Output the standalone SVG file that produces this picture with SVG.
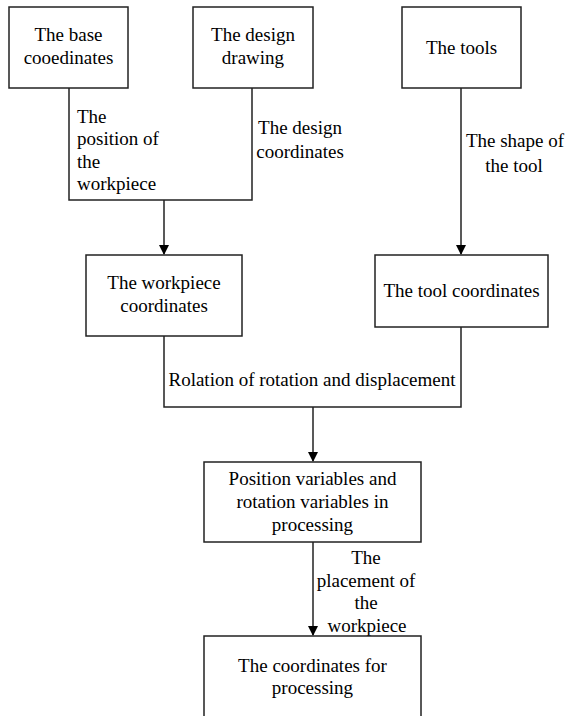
<svg xmlns="http://www.w3.org/2000/svg" width="567" height="716" viewBox="0 0 567 716">
<defs>
<marker id="arr" markerWidth="10" markerHeight="10" refX="9" refY="5" orient="auto" markerUnits="userSpaceOnUse">
<path d="M0,0 L10,5 L0,10 Z" fill="#000"/>
</marker>
<style>
.box{fill:#fff;stroke:#222;stroke-width:1.5}
.ln{fill:none;stroke:#222;stroke-width:1.5}
.t{font-family:'Liberation Serif','Times New Roman',serif;font-size:19px;fill:#000}
.c{text-anchor:middle}
</style>
</defs>
<rect width="567" height="716" fill="#fff"/>
<g id="connectors">
<polyline class="ln" points="69,88 69,200 252,200 252,88"/>
<line class="ln" x1="164" y1="200" x2="164" y2="254" marker-end="url(#arr)"/>
<line class="ln" x1="461" y1="88" x2="461" y2="254" marker-end="url(#arr)"/>
<polyline class="ln" points="164,336 164,407 461,407 461,327"/>
<line class="ln" x1="313" y1="407" x2="313" y2="461" marker-end="url(#arr)"/>
<line class="ln" x1="313" y1="542" x2="313" y2="635" marker-end="url(#arr)"/>
<g class="t">
<text x="77" y="123">The</text>
<text x="77" y="145">position of</text>
<text x="77" y="168">the</text>
<text x="77" y="190">workpiece</text>
<text class="c" x="300" y="134">The design</text>
<text class="c" x="300" y="158">coordinates</text>
<text class="c" x="515" y="147">The shape of</text>
<text class="c" x="514" y="172">the tool</text>
<text class="c" x="312" y="386">Rolation of rotation and displacement</text>
<text class="c" x="366" y="564">The</text>
<text class="c" x="366" y="587">placement of</text>
<text class="c" x="366" y="609">the</text>
<text class="c" x="367" y="632">workpiece</text>
</g>
</g>
<g id="base" class="t">
<rect class="box" x="9" y="7" width="119" height="81"/>
<text class="c" x="68.5" y="41">The base</text>
<text class="c" x="68.5" y="64">cooedinates</text>
</g>
<g id="design" class="t">
<rect class="box" x="193" y="7" width="120" height="81"/>
<text class="c" x="253" y="41">The design</text>
<text class="c" x="253" y="64">drawing</text>
</g>
<g id="tools" class="t">
<rect class="box" x="402" y="7" width="119" height="81"/>
<text class="c" x="461.5" y="54">The tools</text>
</g>
<g id="workpiece" class="t">
<rect class="box" x="86" y="255" width="156" height="81"/>
<text class="c" x="164" y="289">The workpiece</text>
<text class="c" x="164" y="312">coordinates</text>
</g>
<g id="toolcoord" class="t">
<rect class="box" x="375" y="255" width="173" height="72"/>
<text class="c" x="461.5" y="297">The tool coordinates</text>
</g>
<g id="position" class="t">
<rect class="box" x="204" y="462" width="217" height="80"/>
<text class="c" x="312.5" y="485">Position variables and</text>
<text class="c" x="312.5" y="508">rotation variables in</text>
<text class="c" x="312.5" y="531">processing</text>
</g>
<g id="processing" class="t">
<rect class="box" x="204" y="636" width="217" height="90"/>
<text class="c" x="312.5" y="672">The coordinates for</text>
<text class="c" x="312.5" y="694">processing</text>
</g>
</svg>
